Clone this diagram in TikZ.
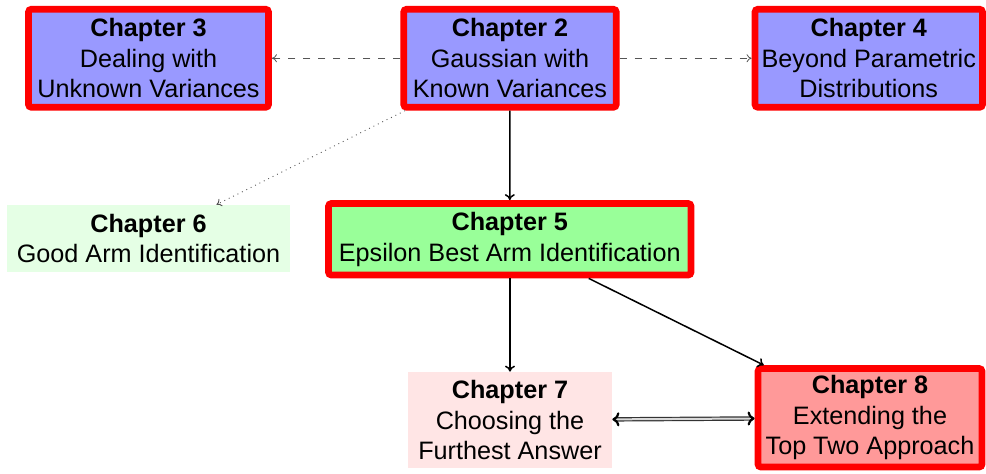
\documentclass[tikz,border=0pt]{standalone}
\usepackage{fontspec}
\setmainfont{Liberation Sans}
\usetikzlibrary{arrows.meta}
\definecolor{bluefill}{HTML}{9999FF}
\definecolor{greenfill}{HTML}{99FF99}
\definecolor{lightgreen}{HTML}{E5FFE5}
\definecolor{lightpink}{HTML}{FFE5E5}
\definecolor{redfill}{HTML}{FF9999}
\definecolor{dashgray}{HTML}{555555}
\begin{document}
\begin{tikzpicture}[x=0.5pt,y=-0.5pt,
  every node/.style={font=\fontsize{12.6}{15.3}\selectfont, align=center, inner sep=0pt},
  chapbox/.style={draw=red, line width=3.4pt, rounded corners=1.5pt},
  plainbox/.style={},
  solidarrow/.style={-{To[length=3pt,width=5pt]}, line width=0.75pt, black},
  dasharrow/.style={-{To[length=2.5pt,width=4pt]}, line width=0.4pt, dashgray, dash pattern=on 3.5pt off 4pt},
  dotarrow/.style={-{To[length=2.5pt,width=4pt]}, line width=0.45pt, dashgray, dotted},
  dblarrow/.style={{To[length=3.5pt,width=7pt,line width=1.1pt,color=black]}-{To[length=3.5pt,width=7pt,line width=1.1pt,color=black]}, line width=0.6pt, double=white!70!gray, double distance=1pt, black!80}
]
\useasboundingbox (0,0) rectangle (986,473);
\node[chapbox, fill=bluefill, minimum width=120pt, minimum height=49pt] (c3) at (148.5,58.25)
  {\textbf{Chapter 3}\\Dealing with\\Unknown Variances};
\node[chapbox, fill=bluefill, minimum width=106.25pt, minimum height=49pt] (c2) at (510,58.25)
  {\textbf{Chapter 2}\\Gaussian with\\Known Variances};
\node[chapbox, fill=bluefill, minimum width=113.75pt, minimum height=49pt] (c4) at (868.75,58.25)
  {\textbf{Chapter 4}\\Beyond Parametric\\Distributions};
\node[plainbox, fill=lightgreen, minimum width=141.5pt, minimum height=33.5pt] (c6) at (148.5,238.5)
  {\textbf{Chapter 6}\\Good Arm Identification};
\node[chapbox, fill=greenfill, minimum width=181.25pt, minimum height=35.75pt] (c5) at (509.75,239.25)
  {\textbf{Chapter 5}\\Epsilon Best Arm Identification};
\node[plainbox, fill=lightpink, minimum width=102pt, minimum height=48pt] (c7) at (510,420)
  {\textbf{Chapter 7}\\Choosing the\\Furthest Answer};
\node[chapbox, fill=redfill, minimum width=112pt, minimum height=49.25pt] (c8) at (870,417.75)
  {\textbf{Chapter 8}\\Extending the\\Top Two Approach};
\draw[dasharrow] (c2) -- (c3);
\draw[dasharrow] (c2) -- (c4);
\draw[dotarrow] (c2) -- (c6);
\draw[solidarrow] (c2) -- (c5);
\draw[solidarrow] (c5.south -| c7.north) -- (c7);
\draw[solidarrow] (c5) -- (c8);
\draw[dblarrow] (c7) -- (c8);
\end{tikzpicture}
\end{document}
